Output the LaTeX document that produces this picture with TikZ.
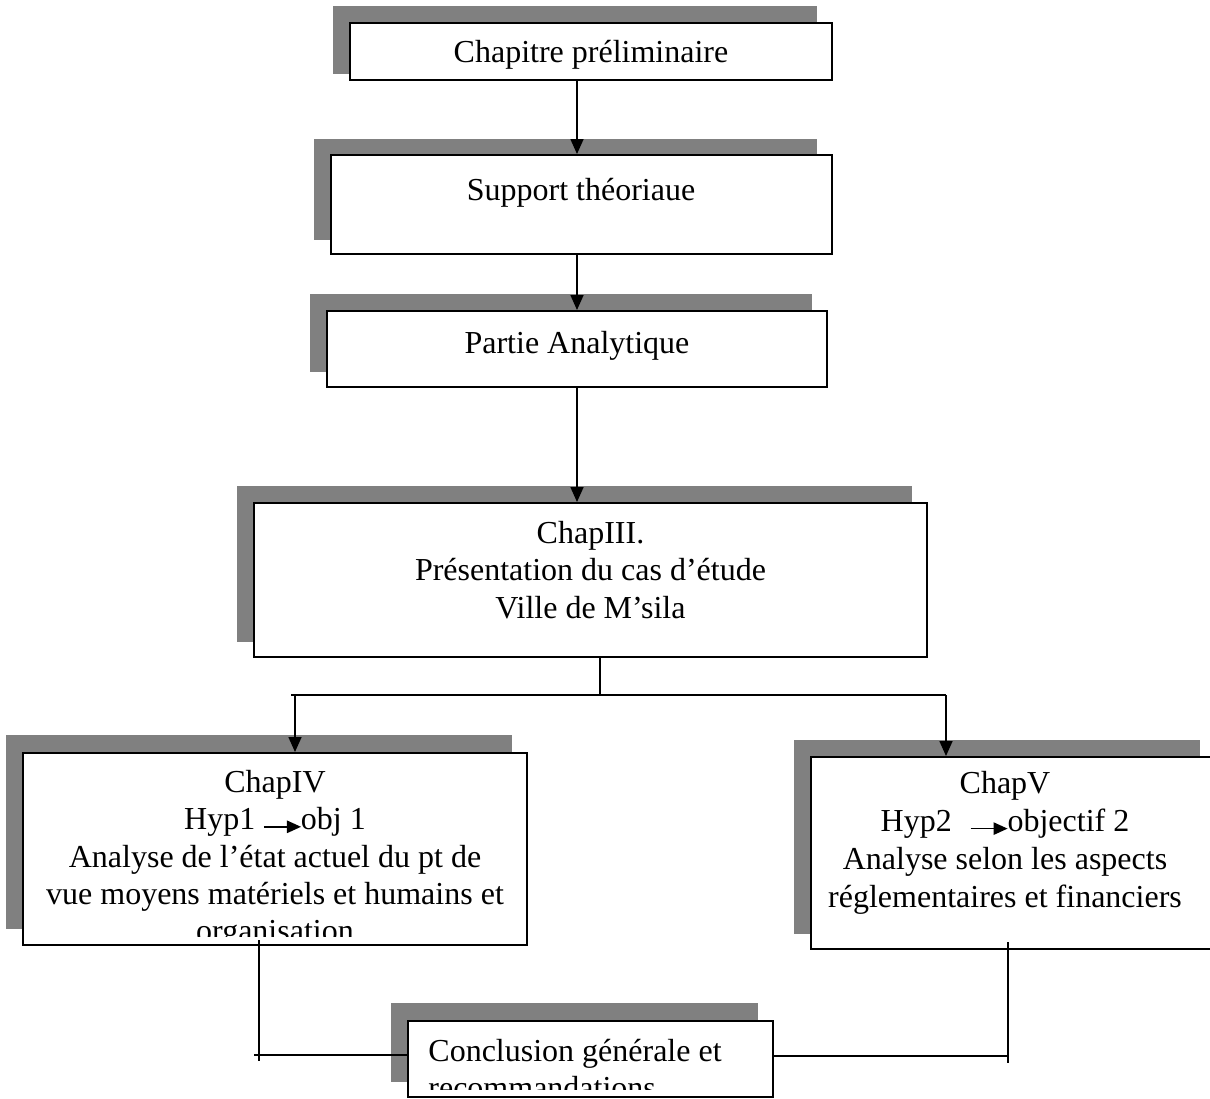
\documentclass[tikz,border=0pt]{standalone}
\usepackage{fontspec}
\setmainfont{Liberation Serif}
\usetikzlibrary{arrows.meta,backgrounds,calc}
\definecolor{shadowgray}{HTML}{808080}
\newcommand\hyparrow{\tikz[baseline=0pt]{\draw[line width=0.7pt] (0pt,1.5pt) -- (12pt,1.5pt); \fill (11.5pt,-1.7pt) -- (18.5pt,1.5pt) -- (11.5pt,4.7pt) -- cycle;}}
\begin{document}
\begin{tikzpicture}[x=0.5pt,y=-0.5pt,
  boxnode/.style={draw, line width=1pt, fill=white, inner sep=0pt},
  boxtext/.style={inner sep=0pt, font=\fontsize{16}{18.6}\selectfont, align=center, anchor=north},
  conn/.style={line width=0.8pt},
  arr/.style={conn, -{Triangle[width=6.5pt,length=7.5pt]}},
  shadowfill/.style={fill=shadowgray}]
\useasboundingbox (0,0) rectangle (1210,1098);

% boxes
\node[boxnode, minimum width=241pt,   minimum height=28.5pt] (b1) at (591,51.5) {};
\node[boxnode, minimum width=250.5pt, minimum height=49.5pt] (b2) at (581.5,204.5) {};
\node[boxnode, minimum width=250pt,   minimum height=38pt]   (b3) at (577,349) {};
\node[boxnode, minimum width=336.5pt, minimum height=77pt]   (b4) at (590.5,580) {};
\node[boxnode, minimum width=252pt,   minimum height=96pt]   (b5) at (275,849) {};
\node[boxnode, minimum width=202pt,   minimum height=96pt]   (b6) at (1013,853) {};
\node[boxnode, minimum width=182.5pt, minimum height=38pt]   (b7) at (590.5,1059) {};

% shadows
\begin{scope}[on background layer]
\fill[shadowfill] ($(b1.north west)+(-16,-16)$) rectangle ($(b1.south east)+(-16,-7)$);
\fill[shadowfill] ($(b2.north west)+(-16,-15)$) rectangle ($(b2.south east)+(-16,-15)$);
\fill[shadowfill] ($(b3.north west)+(-16,-16)$) rectangle ($(b3.south east)+(-16,-16)$);
\fill[shadowfill] ($(b4.north west)+(-16,-16)$) rectangle ($(b4.south east)+(-16,-16)$);
\fill[shadowfill] ($(b5.north west)+(-16,-17)$) rectangle ($(b5.south east)+(-16,-17)$);
\fill[shadowfill] ($(b6.north west)+(-16,-16)$) rectangle ($(b6.south east)+(-16,-16)$);
\fill[shadowfill] ($(b7.north west)+(-16,-17)$) rectangle ($(b7.south east)+(-16,-16)$);
\end{scope}

% texts
\node[boxtext] (t1) at (591,40) {Chapitre préliminaire};
\node[boxtext] (t2) at (581,178) {Support théoriaue};
\node[boxtext] (t3) at (577,331) {Partie Analytique};
\node[boxtext] (t4) at (590.5,521)
  {ChapIII.\\Présentation du cas d’étude\\Ville de M’sila};
\begin{scope}
\clip (23,753) rectangle (527,936);
\node[boxtext] (t5) at (275,770)
  {ChapIV\\Hyp1 \hyparrow obj 1\\Analyse de l’état actuel du pt de\\vue moyens matériels et humains et\\organisation};
\end{scope}
\node[boxtext, font=\fontsize{16}{19}\selectfont] (t6) at (1005,771)
  {ChapV\\Hyp2\hspace{9pt}\hyparrow objectif 2\\Analyse selon les aspects\\réglementaires et financiers};
\begin{scope}
\clip (408,1021) rectangle (773,1089);
\node[boxtext, anchor=north west, align=left] (t7) at (428,1039) {Conclusion générale et\\recommandations};
\end{scope}

% main chain
\coordinate (ax) at (577,0);
\draw[arr] (b1.south -| ax) -- (b2.north -| ax);
\draw[arr] (b2.south -| ax) -- (b3.north -| ax);
\draw[arr] (b3.south -| ax) -- (b4.north -| ax);

% branch
\coordinate (brx) at (600,695);
\coordinate (brl) at (291,695);
\coordinate (brr) at (946,695);
\coordinate (al) at (295,695);
\draw[conn] (b4.south -| brx) -- (brx);
\draw[conn] (brl) -- (brr);
\draw[arr] (al) -- (b5.north -| al);
\draw[arr] (brr) -- (b6.north -| brr);

% bottom connections
\coordinate (L1) at (259,940);
\coordinate (L2) at (259,1061);
\coordinate (L3) at (254,1055);
\draw[conn] (L1) -- (L2);
\draw[conn] (L3) -- (L3 -| b7.west);
\coordinate (R1) at (1008,942);
\coordinate (R2) at (1008,1063);
\coordinate (R3) at (1008,1056);
\draw[conn] (R1) -- (R2);
\draw[conn] (b7.east |- R3) -- (R3);
\end{tikzpicture}
\end{document}
